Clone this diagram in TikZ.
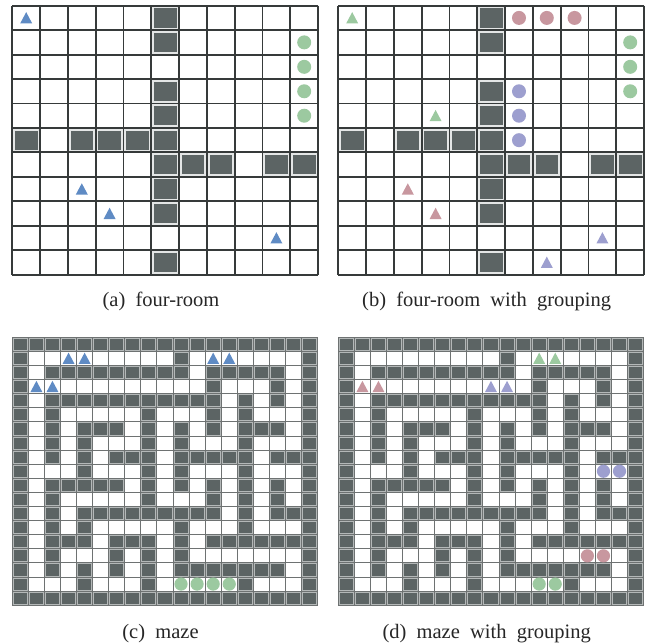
\documentclass[tikz,border=0pt]{standalone}
\usepackage{fontspec}
\setmainfont{Liberation Serif}
\definecolor{wallc}{HTML}{5C6464}
\definecolor{blu}{HTML}{5F8BC4}
\definecolor{grn}{HTML}{9CC9A0}
\definecolor{rdd}{HTML}{C8979F}
\definecolor{pur}{HTML}{9D9FCF}
\definecolor{gridA}{HTML}{363A3A}
\definecolor{gridB}{HTML}{6E7272}
\definecolor{rimA}{HTML}{E4E6E6}
\definecolor{rimB}{HTML}{B4B8B8}
\tikzset{
  capt/.style={font=\fontsize{20.5}{24}\selectfont, anchor=base, inner sep=0pt, text=black!85}
}
% cell drawing helpers
\newcommand{\wallcell}[6]{% ox oy cw ch c r
  \pgfmathsetmacro{\xa}{#1+#3*#5}\pgfmathsetmacro{\ya}{#2+#4*#6}
  \fill[\wrimc] (\xa,\ya) rectangle ++(#3,#4);
  \fill[wallc] (\xa+\winset,\ya+\winset) rectangle (\xa+#3-\winset,\ya+#4-\winset);
}
\newcommand{\gridlines}[7]{% ox oy cw ch nc nr style
  \foreach \i in {0,...,#5}{\pgfmathsetmacro{\xx}{#1+#3*\i}
    \draw[#7] (\xx,#2) -- (\xx,#2+#4*#6);}
  \foreach \j in {0,...,#6}{\pgfmathsetmacro{\yy}{#2+#4*\j}
    \draw[#7] (#1,\yy) -- (#1+#3*#5,\yy);}
}
\newcommand{\mkTri}[7]{% ox oy cw ch c r colour
  \pgfmathsetmacro{\xc}{#1+#3*(#5+0.5)}\pgfmathsetmacro{\yc}{#2+#4*(#6+0.5)}
  \fill[#7] (\xc-6,\yc+5.5) -- (\xc+6,\yc+5.5) -- (\xc,\yc-5.8) -- cycle;
}
\newcommand{\mkDot}[7]{%
  \pgfmathsetmacro{\xc}{#1+#3*(#5+0.5)}\pgfmathsetmacro{\yc}{#2+#4*(#6+0.5)}
  \fill[#7] (\xc,\yc) circle[radius=\dotr];
}
\newcommand{\roomworld}[2]{%
  \def\wrimc{rimA}\def\winset{2.6}
  \foreach \c/\r in {5/0,5/1,5/3,5/4,0/5,2/5,3/5,4/5,5/5,5/6,6/6,7/6,9/6,10/6,5/7,5/8,5/10}{
    \wallcell{#1}{#2}{27.8}{24.45}{\c}{\r}}
  \gridlines{#1}{#2}{27.8}{24.45}{11}{11}{gridA,line width=1.9}
}
\newcommand{\mazeworld}[2]{%
  \def\wrimc{rimB}\def\winset{1.5}
  \foreach \r/\cols in {
    0/{0,1,2,3,4,5,6,7,8,9,10,11,12,13,14,15,16,17,18},
    1/{0,10,18},
    2/{0,2,3,4,5,6,7,8,9,10,12,13,14,15,16,18},
    3/{0,12,16,18},
    4/{0,2,3,4,5,6,7,8,9,10,11,12,14,16,18},
    5/{0,2,8,12,14,18},
    6/{0,2,4,5,6,8,10,12,14,15,16,18},
    7/{0,2,4,8,10,14,18},
    8/{0,2,4,6,7,8,10,11,12,13,14,16,17,18},
    9/{0,4,8,10,14,18},
    10/{0,2,3,4,5,6,8,10,12,14,16,18},
    11/{0,2,8,12,14,16,18},
    12/{0,2,4,5,6,7,8,9,10,11,12,14,16,17,18},
    13/{0,2,4,10,14,18},
    14/{0,2,3,4,6,7,8,10,12,13,14,15,16,17,18},
    15/{0,2,6,8,10,18},
    16/{0,2,4,6,8,10,11,12,13,14,15,16,18},
    17/{0,4,8,14,18},
    18/{0,1,2,3,4,5,6,7,8,9,10,11,12,13,14,15,16,17,18}}{
    \foreach \c in \cols {\wallcell{#1}{#2}{16.07}{14.1}{\c}{\r}}}
  \gridlines{#1}{#2}{16.07}{14.1}{19}{19}{gridB,line width=0.9}
}
\begin{document}
\begin{tikzpicture}[x=1pt,y=-1pt]
\useasboundingbox (0,0) rectangle (649,643);
\fill[white] (0,0) rectangle (649,643);
% (a)
\roomworld{12.3}{5.7}
\def\A{12.3}\def\B{5.7}\def\C{27.8}\def\D{24.45}\def\dotr{7}
\foreach \c/\r in {0/0,2/7,3/8,9/9}{\mkTri{\A}{\B}{\C}{\D}{\c}{\r}{blu}}
\foreach \r in {1,2,3,4}{\mkDot{\A}{\B}{\C}{\D}{10}{\r}{grn}}
% (b)
\roomworld{338.3}{5.7}
\def\A{338.3}
\foreach \c/\r/\k in {0/0/grn,3/4/grn,2/7/rdd,3/8/rdd,9/9/pur,7/10/pur}{\mkTri{\A}{\B}{\C}{\D}{\c}{\r}{\k}}
\foreach \c/\r/\k in {6/0/rdd,7/0/rdd,8/0/rdd,10/1/grn,10/2/grn,10/3/grn,6/3/pur,6/4/pur,6/5/pur}{\mkDot{\A}{\B}{\C}{\D}{\c}{\r}{\k}}
% (c)
\mazeworld{12.3}{337.3}
\def\A{12.3}\def\B{337.3}\def\C{16.07}\def\D{14.1}\def\dotr{6.6}
\foreach \c/\r in {3/1,4/1,1/3,2/3,12/1,13/1}{\mkTri{\A}{\B}{\C}{\D}{\c}{\r}{blu}}
\foreach \c in {10,11,12,13}{\mkDot{\A}{\B}{\C}{\D}{\c}{17}{grn}}
% (d)
\mazeworld{338.3}{337.3}
\def\A{338.3}
\foreach \c/\r/\k in {12/1/grn,13/1/grn,1/3/rdd,2/3/rdd,9/3/pur,10/3/pur}{\mkTri{\A}{\B}{\C}{\D}{\c}{\r}{\k}}
\foreach \c/\r/\k in {16/9/pur,17/9/pur,15/15/rdd,16/15/rdd,12/17/grn,13/17/grn}{\mkDot{\A}{\B}{\C}{\D}{\c}{\r}{\k}}
% captions
\node[capt] (capa) at (161,306.5) {(a)\ \ four-room};
\node[capt] (capb) at (486.7,306.5) {(b)\ \ four-room\ \ with\ \ grouping};
\node[capt] (capc) at (160.5,638) {(c)\ \ maze};
\node[capt] (capd) at (486.7,638) {(d)\ \ maze\ \ with\ \ grouping};
\end{tikzpicture}
\end{document}
